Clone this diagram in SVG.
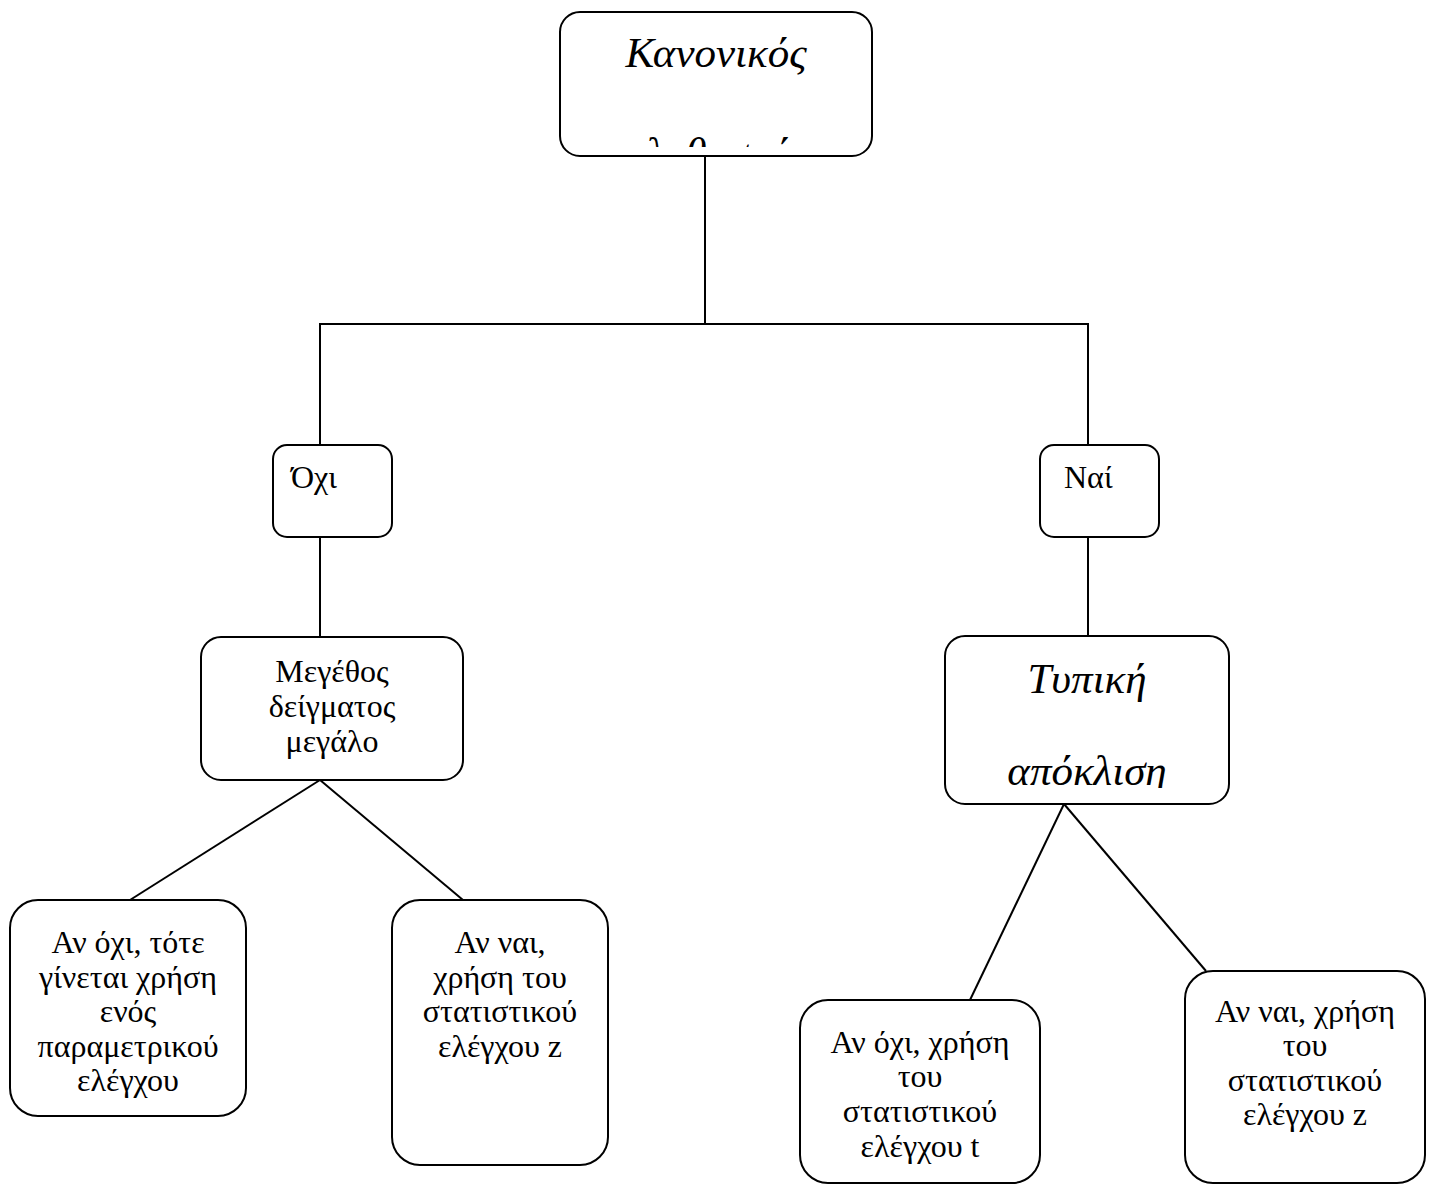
<svg xmlns="http://www.w3.org/2000/svg" width="1432" height="1185" viewBox="0 0 1432 1185">
<style>
.box{fill:#fff;stroke:#000;stroke-width:2}
.ln{stroke:#000;stroke-width:2;fill:none}
.t{font-family:"Liberation Serif","Times New Roman",serif;font-size:32px;fill:#000}
.c{text-anchor:middle}
.i{font-style:italic;font-size:43px}
</style>
<defs>
<clipPath id="clipTop"><rect x="562" y="14" width="308" height="133"/></clipPath>
<clipPath id="clipTyp"><rect x="946" y="638" width="282" height="150"/></clipPath>
</defs>
<rect width="1432" height="1185" fill="#fff"/>
<g id="connectors">
<line class="ln" x1="705" y1="156" x2="705" y2="324"/>
<polyline class="ln" points="320,445 320,324 1088,324 1088,445"/>
<line class="ln" x1="320" y1="537" x2="320" y2="637"/>
<line class="ln" x1="1088" y1="537" x2="1088" y2="636"/>
<line class="ln" x1="320" y1="780" x2="130" y2="900"/>
<line class="ln" x1="320" y1="780" x2="463" y2="900"/>
<line class="ln" x1="1064" y1="804" x2="970" y2="1000"/>
<line class="ln" x1="1064" y1="804" x2="1206" y2="971"/>
</g>
<g id="node-kanonikos">
<rect class="box" x="560" y="12" width="312" height="144" rx="20"/>
<g clip-path="url(#clipTop)">
<text class="t c i" x="716" y="67">Κανονικός</text>
<text class="t c i" x="716" y="167">πληθυσμός</text>
</g>
</g>
<g id="node-ochi">
<rect class="box" x="273" y="445" width="119" height="92" rx="14"/>
<text class="t" x="291" y="488">Όχι</text>
</g>
<g id="node-nai">
<rect class="box" x="1040" y="445" width="119" height="92" rx="14"/>
<text class="t" x="1064" y="488">Ναί</text>
</g>
<g id="node-megethos">
<rect class="box" x="201" y="637" width="262" height="143" rx="20"/>
<text class="t c" x="332" y="682">Μεγέθος</text>
<text class="t c" x="332" y="717">δείγματος</text>
<text class="t c" x="332" y="752">μεγάλο</text>
</g>
<g id="node-typiki">
<rect class="box" x="945" y="636" width="284" height="168" rx="20"/>
<g clip-path="url(#clipTyp)">
<text class="t c i" x="1087" y="693">Τυπική</text>
<text class="t c i" x="1087" y="785">απόκλιση</text>
</g>
</g>
<g id="node-an-ochi-param">
<rect class="box" x="10" y="900" width="236" height="216" rx="28"/>
<text class="t c" x="128" y="953">Αν όχι, τότε</text>
<text class="t c" x="128" y="988">γίνεται χρήση</text>
<text class="t c" x="128" y="1022">ενός</text>
<text class="t c" x="128" y="1057">παραμετρικού</text>
<text class="t c" x="128" y="1091">ελέγχου</text>
</g>
<g id="node-an-nai-z1">
<rect class="box" x="392" y="900" width="216" height="265" rx="28"/>
<text class="t c" x="500" y="953">Αν ναι,</text>
<text class="t c" x="500" y="988">χρήση του</text>
<text class="t c" x="500" y="1022">στατιστικού</text>
<text class="t c" x="500" y="1057">ελέγχου z</text>
</g>
<g id="node-an-ochi-t">
<rect class="box" x="800" y="1000" width="240" height="183" rx="28"/>
<text class="t c" x="920" y="1053">Αν όχι, χρήση</text>
<text class="t c" x="920" y="1087">του</text>
<text class="t c" x="920" y="1122">στατιστικού</text>
<text class="t c" x="920" y="1157">ελέγχου t</text>
</g>
<g id="node-an-nai-z2">
<rect class="box" x="1185" y="971" width="240" height="212" rx="28"/>
<text class="t c" x="1305" y="1022">Αν ναι, χρήση</text>
<text class="t c" x="1305" y="1056">του</text>
<text class="t c" x="1305" y="1091">στατιστικού</text>
<text class="t c" x="1305" y="1125">ελέγχου z</text>
</g>
</svg>
